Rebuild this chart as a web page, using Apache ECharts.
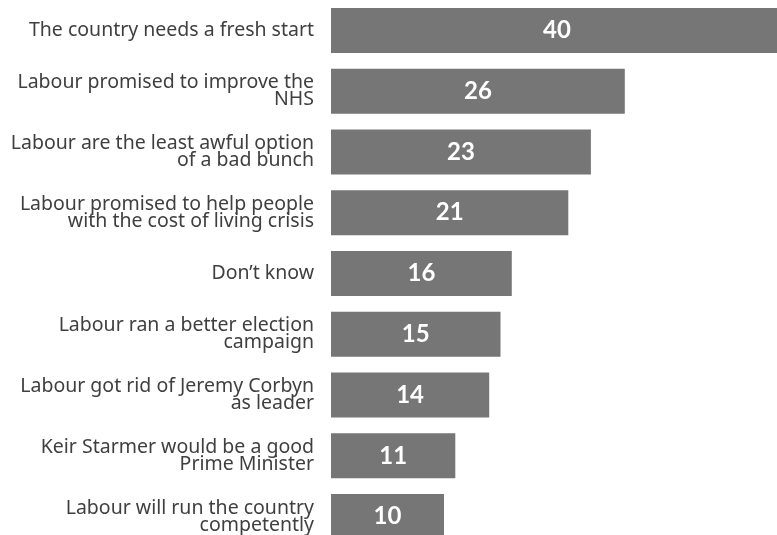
<!DOCTYPE html>
<html><head><meta charset="utf-8">
<script src="https://cdn.jsdelivr.net/npm/echarts@6/dist/echarts.min.js"></script>
<style>html,body{margin:0;padding:0;background:#fff}#c{width:777px;height:535px}</style>
</head><body><div id="c"></div>
<script>
const categories = [
  "The country needs a fresh start",
  "Labour promised to improve the\nNHS",
  "Labour are the least awful option\nof a bad bunch",
  "Labour promised to help people\nwith the cost of living crisis",
  "Don\u2019t know",
  "Labour ran a better election\ncampaign",
  "Labour got rid of Jeremy Corbyn\nas leader",
  "Keir Starmer would be a good\nPrime Minister",
  "Labour will run the country\ncompetently"
];
const values = [40, 26, 23, 21, 16, 15, 14, 11, 10];

const chart = echarts.init(document.getElementById('c'));
chart.setOption({
  animation: false,
  grid: { left: 331, top: 0, right: -6, bottom: -12, containLabel: false, outerBoundsMode: 'none' },
  xAxis: { type: 'value', min: 0, max: 40, show: false },
  yAxis: {
    type: 'category', inverse: true, data: categories,
    axisLine: { show: false }, axisTick: { show: false },
    axisLabel: {
      margin: 17, align: 'right', color: '#3f3f3f',
      fontFamily: 'Noto Sans', fontSize: 19.5, lineHeight: 17
    }
  },
  series: [{
    type: 'bar', data: values, barWidth: 45,
    itemStyle: { color: '#767676' },
    label: {
      show: true, position: 'inside', color: '#fff',
      fontFamily: 'Lato', fontWeight: 'bold', fontSize: 24
    }
  }]
});
</script></body></html>
